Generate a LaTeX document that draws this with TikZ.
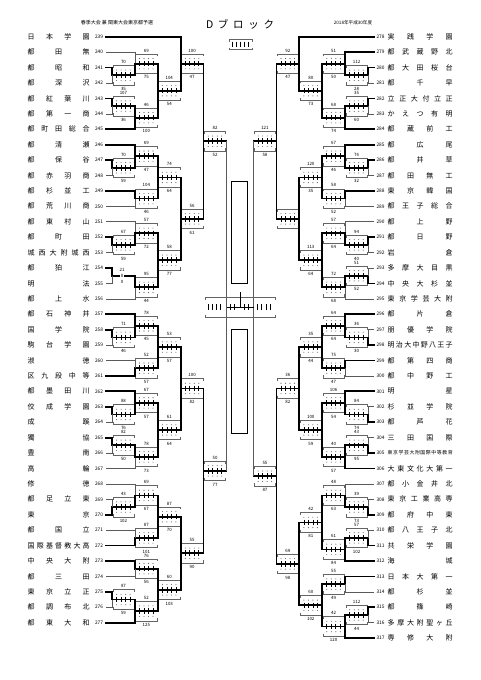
\documentclass[tikz,border=0pt]{standalone}
\usepackage{fontspec}
\setmainfont{Noto Sans CJK JP}
\usetikzlibrary{calc}

\definecolor{lingray}{RGB}{90,90,90}
\definecolor{boxgray}{RGB}{100,100,100}

\tikzset{
  winln/.style={line width=1.75pt,black,line cap=rect},
  thinln/.style={line width=0.6pt,lingray},
  boxln/.style={line width=0.55pt,boxgray},
  tickln/.style={line width=0.75pt,black},
  tname/.style={inner sep=0pt,font=\fontsize{7}{8}\selectfont},
  tnum/.style={inner sep=0pt,font=\fontsize{4.8}{5}\selectfont},
  snum/.style={inner sep=0pt,font=\fontsize{4.4}{5}\selectfont},
}

%% row position of team i
\newcommand\rowy[1]{36.7+15.42*(#1)}
%% spread the characters of a name over the box
\def\sprd#1{\sprdA#1\relax}
\def\sprdA#1#2\relax{#1\ifx\relax#2\relax\else\hfill\sprdA#2\relax\fi}

%% score box, drawn from its left edge
\newcommand\scorebox[4]{%
  \begin{scope}[shift={(#1)}]
    \draw[boxln] (0.8,-7.2) -- (0.8,-9.8) -- (22.1,-9.8) -- (22.1,-7.2);
    \draw[boxln] (0.8,7.2) -- (0.8,9.8) -- (22.1,9.8) -- (22.1,7.2);
    \foreach \u in {4.6,9.1,13.6,18.1}{
      \fill[boxgray] (\u,-5.2) circle (0.55pt);
      \fill[boxgray] (\u,5.2) circle (0.55pt);
      \draw[tickln] (\u,-2.8) -- (\u,2.8);
    }
    \draw[winln] (0,0) -- (22.9,0);
    \node[snum] (#2top) at (11.45,-13.2) {#3};
    \node[snum] (#2bot) at (11.45,13.6) {#4};
  \end{scope}}

%% left side: team and match
\newcommand\lteam[3]{%
  \node[tname,anchor=west] (n#2) at (27.5,{\rowy{#1}}) {\makebox[62pt][s]{\sprd{#3}}};
  \node[tnum] (k#2) at (99,{\rowy{#1}}) {#2};
  \coordinate (t#2) at (106,{\rowy{#1}})}
\newcommand\lmatch[5]{%
  \coordinate (#1) at ({112+22.9*#2},{\rowy{#3}});
  \coordinate (#1o) at ({134.9+22.9*#2},{\rowy{#3}});
  \scorebox{#1}{#1}{#4}{#5}}

%% right side: team and match
\newcommand\rteam[3]{%
  \node[tname,anchor=west] (n#2) at (387.5,{\rowy{#1}}) {\makebox[65pt][s]{\sprd{#3}}};
  \node[tnum] (k#2) at (380.5,{\rowy{#1}}) {#2};
  \coordinate (t#2) at (374,{\rowy{#1}})}
\newcommand\rmatch[5]{%
  \coordinate (#1) at ({368-22.9*#2},{\rowy{#3}});
  \coordinate (#1o) at ({345.1-22.9*#2},{\rowy{#3}});
  \scorebox{#1o}{#1}{#4}{#5}}

\begin{document}
\begin{tikzpicture}[x=1pt,y=-1pt]

\fill[white] (0,0) rectangle (481,680);
\useasboundingbox (0,0) rectangle (481,680);

%% ── header ──────────────────────────────────────────────
\node[inner sep=0pt,font=\fontsize{5}{6}\selectfont] (hdEvent) at (117,23) {春季大会 兼 関東大会東京都予選};
\node[inner sep=0pt,font=\fontsize{10.5}{12}\selectfont] (hdBlock) at (240,24) {\makebox[68pt][s]{\sprd{Dブロック}}};
\node[inner sep=0pt,font=\fontsize{4.6}{5}\selectfont] (hdYear) at (353,23) {2018年平成30年度};

%% ── left teams ─────────────────────────────────────────
\lteam{0}{239}{日本学園};
\lteam{1}{240}{都田無};
\lteam{2}{241}{都昭和};
\lteam{3}{242}{都深沢};
\lteam{4}{243}{都紅葉川};
\lteam{5}{244}{都第一商};
\lteam{6}{245}{都町田総合};
\lteam{7}{246}{都清瀬};
\lteam{8}{247}{都保谷};
\lteam{9}{248}{都赤羽商};
\lteam{10}{249}{都杉並工};
\lteam{11}{250}{都荒川商};
\lteam{12}{251}{都東村山};
\lteam{13}{252}{都町田};
\lteam{14}{253}{城西大附城西};
\lteam{15}{254}{都狛江};
\lteam{16}{255}{明法};
\lteam{17}{256}{都上水};
\lteam{18}{257}{都石神井};
\lteam{19}{258}{国学院};
\lteam{20}{259}{駒台学園};
\lteam{21}{260}{淑徳};
\lteam{22}{261}{区九段中等};
\lteam{23}{262}{都墨田川};
\lteam{24}{263}{佼成学園};
\lteam{25}{264}{成蹊};
\lteam{26}{265}{獨協};
\lteam{27}{266}{豊南};
\lteam{28}{267}{高輪};
\lteam{29}{268}{修徳};
\lteam{30}{269}{都足立東};
\lteam{31}{270}{東京};
\lteam{32}{271}{都国立};
\lteam{33}{272}{国際基督教大高};
\lteam{34}{273}{中央大附};
\lteam{35}{274}{都三田};
\lteam{36}{275}{東京立正};
\lteam{37}{276}{都調布北};
\lteam{38}{277}{都東大和};

%% ── right teams ────────────────────────────────────────
\rteam{0}{278}{実践学園};
\rteam{1}{279}{都武蔵野北};
\rteam{2}{280}{都大田桜台};
\rteam{3}{281}{都千早};
\rteam{4}{282}{立正大付立正};
\rteam{5}{283}{かえつ有明};
\rteam{6}{284}{都蔵前工};
\rteam{7}{285}{都広尾};
\rteam{8}{286}{都井草};
\rteam{9}{287}{都田無工};
\rteam{10}{288}{東京韓国};
\rteam{11}{289}{都王子総合};
\rteam{12}{290}{都上野};
\rteam{13}{291}{都日野};
\rteam{14}{292}{岩倉};
\rteam{15}{293}{多摩大目黒};
\rteam{16}{294}{中央大杉並};
\rteam{17}{295}{東京学芸大附};
\rteam{18}{296}{都片倉};
\rteam{19}{297}{朋優学院};
\rteam{20}{298}{明治大中野八王子};
\rteam{21}{299}{都第四商};
\rteam{22}{300}{都中野工};
\rteam{23}{301}{明星};
\rteam{24}{302}{杉並学院};
\rteam{25}{303}{都芦花};
\rteam{26}{304}{三田国際};
\node[inner sep=0pt,anchor=west,font=\fontsize{4.9}{5}\selectfont] (n305) at (387.5,{\rowy{27}}) {\makebox[65pt][s]{\sprd{東京学芸大附国際中等教育}}};
\node[tnum] (k305) at (380.5,{\rowy{27}}) {305};
\coordinate (t305) at (374,{\rowy{27}});
\rteam{28}{306}{大東文化大第一};
\rteam{29}{307}{都小金井北};
\rteam{30}{308}{東京工業高専};
\rteam{31}{309}{都府中東};
\rteam{32}{310}{都八王子北};
\rteam{33}{311}{共栄学園};
\rteam{34}{312}{海城};
\rteam{35}{313}{日本大第一};
\rteam{36}{314}{都杉並};
\rteam{37}{315}{都篠崎};
\rteam{38}{316}{多摩大附聖ヶ丘};
\rteam{39}{317}{専修大附};

%% ── left matches (round 0..4, row, upper, lower) ───────
\lmatch{La1}{0}{2.5}{70}{35};
\lmatch{La2}{1}{1.75}{69}{75};
\lmatch{La3}{0}{4.5}{107}{36};
\lmatch{La4}{1}{5.25}{46}{100};
\lmatch{La5}{2}{3.5}{104}{54};
\lmatch{La6}{3}{1.75}{100}{47};
\lmatch{Lb1}{0}{8.5}{70}{59};
\lmatch{Lb2}{1}{7.75}{69}{47};
\lmatch{Lb3}{1}{10.5}{104}{46};
\lmatch{Lb4}{2}{9.125}{74}{64};
\lmatch{Lb5}{0}{13.5}{67}{59};
\lmatch{Lb6}{1}{12.75}{57}{72};
\lmatch{Lb8}{1}{16.25}{95}{44};
\lmatch{Lb9}{2}{14.5}{58}{77};
\lmatch{Lb10}{3}{11.8125}{56}{61};
\lmatch{L5a}{4}{6.78}{82}{52};
\lmatch{Lc1}{0}{19.5}{71}{46};
\lmatch{Lc2}{1}{18.75}{78}{45};
\lmatch{Lc3}{1}{21.5}{52}{57};
\lmatch{Lc4}{2}{20.125}{53}{57};
\lmatch{Lc5}{0}{24.5}{88}{76};
\lmatch{Lc6}{1}{23.75}{67}{57};
\lmatch{Lc7}{0}{26.5}{82}{50};
\lmatch{Lc8}{1}{27.25}{78}{73};
\lmatch{Lc9}{2}{25.5}{61}{64};
\lmatch{Lc10}{3}{22.8125}{100}{82};
\lmatch{Ld1}{0}{30.5}{43}{102};
\lmatch{Ld2}{1}{29.75}{69}{67};
\lmatch{Ld3}{1}{32.5}{87}{101};
\lmatch{Ld4}{2}{31.125}{87}{70};
\lmatch{Ld5}{1}{34.5}{76}{56};
\lmatch{Ld6}{0}{36.5}{87}{59};
\lmatch{Ld7}{1}{37.25}{52}{125};
\lmatch{Ld8}{2}{35.875}{60}{103};
\lmatch{Ld9}{3}{33.5}{55}{90};
\lmatch{L5b}{4}{28.156}{50}{77};

%% called game, no score box
\coordinate (Lb7) at (112,{\rowy{15.5}});
\coordinate (Lb7o) at (134.9,{\rowy{15.5}});
\draw[winln] (Lb7) -- (Lb7o);
\node[snum] (Lb7a) at (122,{\rowy{15.5}-6}) {21};
\node[snum,fill=white,inner sep=0.3pt] (Lb7b) at (122,{\rowy{15.5}}) {8};
\node[snum] (Lb7c) at (122,{\rowy{15.5}+6}) {0};

%% ── right matches ──────────────────────────────────────
\rmatch{Ra1}{0}{2.5}{112}{28};
\rmatch{Ra2}{1}{1.75}{51}{50};
\rmatch{Ra3}{0}{4.5}{35}{60};
\rmatch{Ra4}{1}{5.25}{68}{74};
\rmatch{Ra5}{2}{3.5}{80}{73};
\rmatch{Ra6}{3}{1.75}{92}{47};
\rmatch{Rb1}{0}{8.5}{76}{32};
\rmatch{Rb2}{1}{7.75}{67}{46};
\rmatch{Rb3}{1}{10.5}{58}{52};
\rmatch{Rb4}{2}{9.125}{120}{35};
\rmatch{Rb5}{0}{13.5}{94}{40};
\rmatch{Rb6}{1}{12.75}{57}{64};
\rmatch{Rb7}{0}{15.5}{51}{52};
\rmatch{Rb8}{1}{16.25}{72}{68};
\rmatch{Rb9}{2}{14.5}{113}{64};
\rmatch{Rb10}{3}{11.8125}{}{};
\rmatch{R5a}{4}{6.78}{121}{58};
\rmatch{Rc1}{0}{19.5}{36}{30};
\rmatch{Rc2}{1}{18.75}{64}{64};
\rmatch{Rc3}{1}{21.5}{75}{47};
\rmatch{Rc4}{2}{20.125}{35}{44};
\rmatch{Rc5}{0}{24.5}{84}{74};
\rmatch{Rc6}{1}{23.75}{106}{54};
\rmatch{Rc7}{0}{26.5}{43}{95};
\rmatch{Rc8}{1}{27.25}{40}{57};
\rmatch{Rc9}{2}{25.5}{100}{59};
\rmatch{Rc10}{3}{22.8125}{36}{82};
\rmatch{Rd1}{0}{30.5}{39}{73};
\rmatch{Rd2}{1}{29.75}{48}{63};
\rmatch{Rd3}{0}{32.5}{57}{102};
\rmatch{Rd4}{1}{33.25}{61}{84};
\rmatch{Rd5}{2}{31.5}{42}{81};
\rmatch{Rd6}{1}{35.5}{55}{49};
\rmatch{Rd7}{0}{37.5}{112}{44};
\rmatch{Rd8}{1}{38.25}{42}{120};
\rmatch{Rd9}{2}{36.875}{60}{102};
\rmatch{Rd10}{3}{34.1875}{69}{98};
\rmatch{R5b}{4}{28.5}{55}{87};

%% ── team lines, left ───────────────────────────────────
\foreach \t/\m in {239/La6,241/La1,243/La3,245/La4,246/Lb2,247/Lb1,249/Lb3,
  252/Lb5,254/Lb7,257/Lc2,258/Lc1,261/Lc3,262/Lc6,263/Lc5,265/Lc7,270/Ld1,
  272/Ld3,273/Ld5,275/Ld6,277/Ld7}
  \draw[winln] (t\t) -| (\m);
\foreach \t/\m in {240/La2,242/La1,244/La3,248/Lb1,250/Lb3,251/Lb6,253/Lb5,
  255/Lb7,256/Lb8,259/Lc1,260/Lc3,264/Lc5,266/Lc7,267/Lc8,268/Ld2,269/Ld1,
  271/Ld3,274/Ld5,276/Ld6}
  \draw[thinln] (t\t) -| (\m);

%% ── team lines, right ──────────────────────────────────
\foreach \t/\m in {278/Ra6,279/Ra2,280/Ra1,282/Ra3,284/Ra4,285/Rb2,286/Rb1,
  288/Rb3,291/Rb5,294/Rb7,296/Rc2,298/Rc1,299/Rc3,301/Rc6,303/Rc5,305/Rc7,
  306/Rc8,309/Rd1,311/Rd3,312/Rd4,313/Rd6,315/Rd7,317/Rd8}
  \draw[winln] (t\t) -| (\m);
\foreach \t/\m in {281/Ra1,283/Ra3,287/Rb1,289/Rb3,290/Rb6,292/Rb5,293/Rb7,
  295/Rb8,297/Rc1,300/Rc3,302/Rc5,304/Rc7,307/Rd2,308/Rd1,310/Rd3,314/Rd6,
  316/Rd7}
  \draw[thinln] (t\t) -| (\m);

%% ── winners moving up ──────────────────────────────────
\foreach \a/\b in {La1/La2,La3/La4,La2/La5,La4/La5,La5/La6,La6/L5a,
  Lb1/Lb2,Lb2/Lb4,Lb3/Lb4,Lb5/Lb6,Lb6/Lb9,Lb7/Lb8,Lb8/Lb9,Lb4/Lb10,Lb9/Lb10,
  Lb10/L5a,Lc1/Lc2,Lc2/Lc4,Lc3/Lc4,Lc5/Lc6,Lc6/Lc9,Lc7/Lc8,Lc8/Lc9,Lc4/Lc10,
  Lc9/Lc10,Lc10/L5b,Ld1/Ld2,Ld2/Ld4,Ld3/Ld4,Ld5/Ld8,Ld6/Ld7,Ld7/Ld8,Ld4/Ld9,
  Ld8/Ld9,Ld9/L5b,
  Ra1/Ra2,Ra3/Ra4,Ra2/Ra5,Ra4/Ra5,Ra5/Ra6,Ra6/R5a,Rb1/Rb2,Rb2/Rb4,Rb3/Rb4,
  Rb5/Rb6,Rb6/Rb9,Rb7/Rb8,Rb8/Rb9,Rb4/Rb10,Rb9/Rb10,Rb10/R5a,Rc1/Rc2,Rc2/Rc4,
  Rc3/Rc4,Rc5/Rc6,Rc6/Rc9,Rc7/Rc8,Rc8/Rc9,Rc4/Rc10,Rc9/Rc10,Rc10/R5b,Rd1/Rd2,
  Rd2/Rd5,Rd3/Rd4,Rd4/Rd5,Rd6/Rd9,Rd7/Rd8,Rd8/Rd9,Rd5/Rd10,Rd9/Rd10,Rd10/R5b}
  \draw[winln] (\a o) -| (\b);

%% ── centre: semi-finals and final ──────────────────────
\coordinate (SFl) at (226.5,307);
\coordinate (SFr) at (253.5,307);
\coordinate (FIN) at (240,292);
\draw[thinln] (L5ao) -- (SFl);
\draw[thinln] (L5bo) -- (SFl);
\draw[thinln] (R5ao) -- (SFr);
\draw[thinln] (R5bo) -- (SFr);
\draw[boxln] (205,299.5) -- (205,297) -- (275,297) -- (275,299.5);
\draw[boxln] (205,314.5) -- (205,317) -- (275,317) -- (275,314.5);
\foreach \u in {208.5,212.5,216.5,220.5,257,261.5,266,270.5}
  \draw[thinln,black] (\u,304) -- (\u,310);
\draw[thinln,black] (SFl) -- (SFr);
\foreach \u in {230,234.5,244,248.5}
  \draw[thinln,black] (\u,304) -- (\u,310);
\draw[thinln,black] (FIN) -- (240,307);

%% empty panels
\draw[line width=0.9pt] (231.7,181) rectangle (247.7,283.5);
\draw[line width=0.9pt] (231.7,329.5) rectangle (247.7,433);

%% small key at the top
\draw[boxln] (229,41.5) -- (229,39.5) -- (252,39.5) -- (252,41.5);
\foreach \u in {232.5,236.5,240.5,244.5,248.5}
  \draw[thinln,black] (\u,41.5) -- (\u,47);
\draw[boxln] (229,47.5) -- (229,49.5) -- (252,49.5) -- (252,47.5);

\end{tikzpicture}
\end{document}
